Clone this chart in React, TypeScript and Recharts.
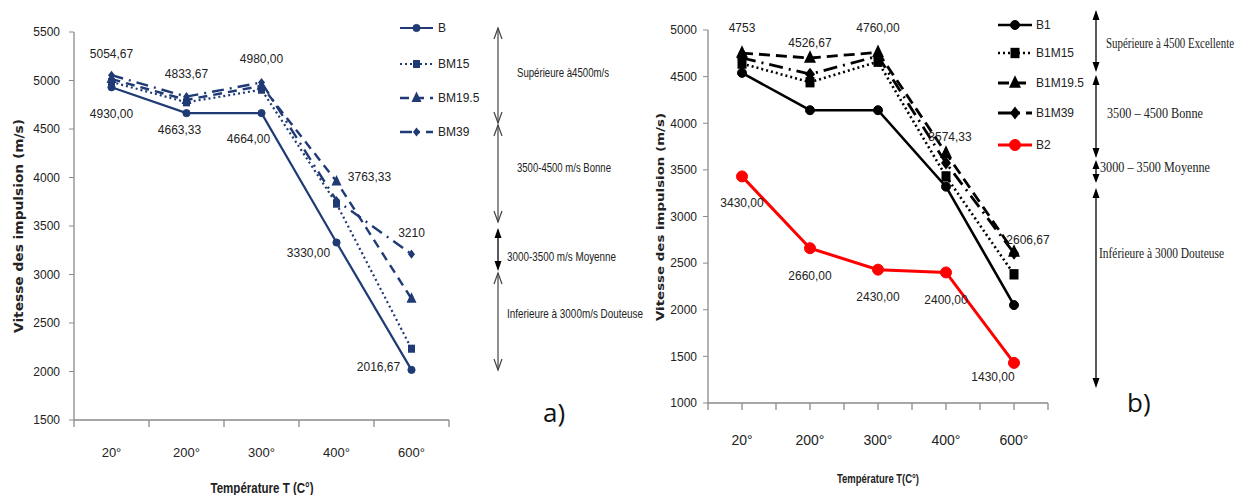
import React from 'react';
import { LineChart, Line, XAxis, YAxis, LabelList } from 'recharts';

// ---------- DATA ----------
const categories = ['20°', '200°', '300°', '400°', '600°'];

// chart a)
const B = [4930, 4663.33, 4664, 3330, 2016.67];
const BM15 = [4985, 4775, 4905, 3730, 2235];
const BM19_5 = [5015, 4800, 4945, 3960, 2750];
const BM39 = [5054.67, 4833.67, 4980, 3763.33, 3210];
const bLabels = ['4930,00', '4663,33', '4664,00', '3330,00', '2016,67'];
const bm39Labels = ['5054,67', '4833,67', '4980,00', '3763,33', '3210'];
const leftYTicks = [1500, 2000, 2500, 3000, 3500, 4000, 4500, 5000, 5500];

// chart b)
const B1 = [4540, 4140, 4140, 3320, 2050];
const B1M15 = [4640, 4440, 4660, 3430, 2380];
const B1M19_5 = [4753, 4700, 4760, 3680, 2620];
const B1M39 = [4700, 4526.67, 4720, 3574.33, 2606.67];
const B2 = [3430, 2660, 2430, 2400, 1430];
const b1m19Labels = ['4753', null, '4760,00', null, null];
const b1m39Labels = [null, '4526,67', null, '3574,33', '2606,67'];
const b2Labels = ['3430,00', '2660,00', '2430,00', '2400,00', '1430,00'];
const rightYTicks = [1000, 1500, 2000, 2500, 3000, 3500, 4000, 4500, 5000];

const xTicks = [0, 0.5, 1, 1.5, 2, 2.5, 3, 3.5, 4, 4.5, 5];

const leftData = categories.map((c, i) => ({
  cat: c, x: i + 0.5,
  B: B[i], BM15: BM15[i], BM19_5: BM19_5[i], BM39: BM39[i],
  bLbl: bLabels[i], bm39Lbl: bm39Labels[i],
}));
const rightData = categories.map((c, i) => ({
  cat: c, x: i + 0.5,
  B1: B1[i], B1M15: B1M15[i], B1M19_5: B1M19_5[i], B1M39: B1M39[i], B2: B2[i],
  m19Lbl: b1m19Labels[i], m39Lbl: b1m39Labels[i], b2Lbl: b2Labels[i],
}));

// ---------- STYLE ----------
const NAVY = '#1f3a74';
const BLACK = '#000';
const RED = '#ff0000';
const SANS = '"Liberation Sans", Arial, sans-serif';
const SERIF = '"Liberation Serif", "Times New Roman", serif';

type Shape = 'circle' | 'square' | 'triangle' | 'diamond';

const leftSeries = [
  { key: 'B', name: 'B', dash: undefined, shape: 'circle' as Shape, size: 3.6, width: 2.2, color: NAVY },
  { key: 'BM15', name: 'BM15', dash: '2 3', shape: 'square' as Shape, size: 3.5, width: 2.2, color: NAVY },
  { key: 'BM19_5', name: 'BM19.5', dash: '9 6', shape: 'triangle' as Shape, size: 5, width: 2.4, color: NAVY },
  { key: 'BM39', name: 'BM39', dash: '12 6 2 6', shape: 'diamond' as Shape, size: 3.5, width: 2.4, color: NAVY },
];
const rightSeries = [
  { key: 'B1', name: 'B1', dash: undefined, shape: 'circle' as Shape, size: 4.5, width: 2.6, color: BLACK },
  { key: 'B1M15', name: 'B1M15', dash: '2 3', shape: 'square' as Shape, size: 4.5, width: 2.6, color: BLACK },
  { key: 'B1M19_5', name: 'B1M19.5', dash: '11 6', shape: 'triangle' as Shape, size: 6, width: 2.8, color: BLACK },
  { key: 'B1M39', name: 'B1M39', dash: '14 6 2 6', shape: 'diamond' as Shape, size: 5, width: 2.8, color: BLACK },
  { key: 'B2', name: 'B2', dash: undefined, shape: 'circle' as Shape, size: 5.5, width: 3, color: RED },
];

function renderShape(shape: Shape, cx: number, cy: number, s: number, color: string, key?: any) {
  switch (shape) {
    case 'circle':
      return <circle key={key} cx={cx} cy={cy} r={s} fill={color} stroke={color} />;
    case 'square':
      return <rect key={key} x={cx - s} y={cy - s * 1.15} width={s * 2} height={s * 2.3} fill={color} />;
    case 'triangle':
      return <polygon key={key} points={`${cx},${cy - s * 1.3} ${cx - s},${cy + s * 0.8} ${cx + s},${cy + s * 0.8}`} fill={color} />;
    case 'diamond':
      return <polygon key={key} points={`${cx},${cy - s * 1.3} ${cx - s},${cy} ${cx},${cy + s * 1.3} ${cx + s},${cy}`} fill={color} />;
  }
}

const makeDot = (shape: Shape, s: number, color: string) => (props: any) => {
  const { cx, cy, index } = props;
  if (cx == null || cy == null) return <g key={`d${index}`} />;
  return renderShape(shape, cx, cy, s, color, `d${index}`);
};

// label offsets (layout only)
const leftBOff = [[0, 27], [-7, 17], [-13, 26], [-28, 11], [-33, -3]];
const leftTopOff = [[0, -21], [0, -23], [0, -23], [33, -23], [0, -21]];
const rightM19Off = [[0, -25], [0, 0], [0, -24], [0, 0], [0, 0]];
const rightM39Off = [[0, 0], [0, -31], [0, 0], [4, -26], [14, -13]];
const rightB2Off = [[0, 27], [0, 28], [0, 27], [0, 28], [-21, 14]];

const makeLabel = (offs: number[][], fontSize: number) => (props: any) => {
  const { x, y, value, index } = props;
  if (value == null || x == null) return null;
  const o = offs[index] || [0, 0];
  return (
    <text key={`l${index}`} x={x + o[0]} y={y + o[1]} textAnchor="middle" dominantBaseline="central"
      fontFamily={SANS} fontSize={fontSize} fill="#222">{value}</text>
  );
};

const makeXTick = (allTicks: boolean, labelDy: number, fontSize: number) => (props: any) => {
  const { x, y, payload } = props;
  const v = payload.value as number;
  const isInt = Math.abs(v - Math.round(v)) < 1e-6;
  const label = isInt ? null : categories[Math.floor(v)];
  return (
    <g>
      {(isInt || allTicks) && <line x1={x} x2={x} y1={y} y2={y + 7} stroke="#8a8a8a" strokeWidth={1.3} />}
      {label && (
        <text x={x} y={y + labelDy} textAnchor="middle" dominantBaseline="central" fontFamily={SANS}
          fontSize={fontSize} fill="#222">{label}</text>
      )}
    </g>
  );
};

const Legend = ({ series, x0, x1, textX, rows, fontSize }: any) => (
  <g>
    {series.map((s: any, i: number) => {
      const y = rows[i];
      const mid = (x0 + x1) / 2;
      return (
        <g key={s.key}>
          <line x1={x0} x2={x1} y1={y} y2={y} stroke={s.color} strokeWidth={s.width} strokeDasharray={s.dash} />
          {renderShape(s.shape, mid, y, s.size, s.color)}
          <text x={textX} y={y} dominantBaseline="central" fontFamily={SANS} fontSize={fontSize} fill="#222">{s.name}</text>
        </g>
      );
    })}
  </g>
);

const OpenArrow = ({ x, y1, y2, color = '#444' }: any) => (
  <g stroke={color} strokeWidth={1.2} fill="none">
    <line x1={x} x2={x} y1={y1} y2={y2} />
    <polyline points={`${x - 4},${y1 + 11} ${x},${y1} ${x + 4},${y1 + 11}`} />
    <polyline points={`${x - 4},${y2 - 11} ${x},${y2} ${x + 4},${y2 - 11}`} />
  </g>
);

const FilledArrow = ({ x, y1, y2, head = 9, hw = 3.5 }: any) => (
  <g>
    <line x1={x} x2={x} y1={y1 + 2} y2={y2 - 2} stroke="#000" strokeWidth={1.3} />
    <polygon points={`${x},${y1} ${x - hw},${y1 + head} ${x + hw},${y1 + head}`} fill="#000" />
    <polygon points={`${x},${y2} ${x - hw},${y2 - head} ${x + hw},${y2 - head}`} fill="#000" />
  </g>
);

const Note = ({ x, y, w, family, size, children }: any) => (
  <text x={x} y={y} dominantBaseline="central" fontFamily={family} fontSize={size} fill="#222"
    textLength={w} lengthAdjust="spacingAndGlyphs">{children}</text>
);

export default function App() {
  return (
    <div style={{ position: 'fixed', left: 0, top: 0, width: 1240, height: 495, background: '#fff', overflow: 'hidden' }}>
      {/* Chart a) */}
      <div style={{ position: 'absolute', left: 0, top: 0 }}>
        <LineChart width={460} height={495} data={leftData} margin={{ top: 32, right: 11, bottom: 0, left: 0 }}>
          <XAxis dataKey="x" type="number" domain={[0, 5]} ticks={xTicks} interval={0} height={75}
            tickSize={0} tickMargin={0} tickLine={false} axisLine={{ stroke: '#8a8a8a', strokeWidth: 1.3 }}
            tick={makeXTick(false, 32, 13)} />
          <YAxis type="number" domain={[1500, 5500]} ticks={leftYTicks} interval={0} width={74}
            tickSize={5} tickMargin={9} axisLine={{ stroke: '#8a8a8a', strokeWidth: 1.3 }}
            tickLine={{ stroke: '#8a8a8a' }}
            tick={{ fontFamily: SANS, fontSize: 12, fill: '#222' }} />
          {leftSeries.map((s) => (
            <Line key={s.key} dataKey={s.key} name={s.name} type="linear" stroke={s.color} strokeWidth={s.width}
              strokeDasharray={s.dash} dot={makeDot(s.shape, s.size, s.color)} activeDot={false}
              isAnimationActive={false}>
              {s.key === 'B' && <LabelList dataKey="bLbl" content={makeLabel(leftBOff, 12)} />}
              {s.key === 'BM39' && <LabelList dataKey="bm39Lbl" content={makeLabel(leftTopOff, 12)} />}
            </Line>
          ))}
        </LineChart>
      </div>

      {/* Chart b) */}
      <div style={{ position: 'absolute', left: 640, top: 0 }}>
        <LineChart width={420} height={495} data={rightData} margin={{ top: 30, right: 12, bottom: 0, left: 0 }}>
          <XAxis dataKey="x" type="number" domain={[0, 5]} ticks={xTicks} interval={0} height={92}
            tickSize={0} tickMargin={0} tickLine={false} axisLine={{ stroke: '#8a8a8a', strokeWidth: 1.3 }}
            tick={makeXTick(true, 37, 14)} />
          <YAxis type="number" domain={[1000, 5000]} ticks={rightYTicks} interval={0} width={68}
            tickSize={5} tickMargin={6} axisLine={{ stroke: '#8a8a8a', strokeWidth: 1.3 }}
            tickLine={{ stroke: '#8a8a8a' }}
            tick={{ fontFamily: SANS, fontSize: 12, fill: '#222' }} />
          {rightSeries.map((s) => (
            <Line key={s.key} dataKey={s.key} name={s.name} type="linear" stroke={s.color} strokeWidth={s.width}
              strokeDasharray={s.dash} dot={makeDot(s.shape, s.size, s.color)} activeDot={false}
              isAnimationActive={false}>
              {s.key === 'B1M19_5' && <LabelList dataKey="m19Lbl" content={makeLabel(rightM19Off, 12)} />}
              {s.key === 'B1M39' && <LabelList dataKey="m39Lbl" content={makeLabel(rightM39Off, 12)} />}
              {s.key === 'B2' && <LabelList dataKey="b2Lbl" content={makeLabel(rightB2Off, 12)} />}
            </Line>
          ))}
        </LineChart>
      </div>

      {/* Overlay: legends, titles, annotations */}
      <svg width={1240} height={495} style={{ position: 'absolute', left: 0, top: 0, pointerEvents: 'none' }}>
        <Legend series={leftSeries} x0={400} x1={433} textX={438} rows={[28, 64, 98, 132]} fontSize={12} />
        <Legend series={rightSeries} x0={998} x1={1032} textX={1036} rows={[25, 53, 83, 113, 145]} fontSize={12} />

        {/* axis titles */}
        <text transform="translate(19,226) rotate(-90)" textAnchor="middle" dominantBaseline="central"
          fontFamily='"DejaVu Sans", Verdana, sans-serif' fontWeight="bold" fontSize={11.5} fill="#222"
          textLength={214} lengthAdjust="spacingAndGlyphs">
          Vitesse des impulsion  (m/s)
        </text>
        <text x={262} y={488} textAnchor="middle" dominantBaseline="central" fontFamily={SANS}
          fontWeight="bold" fontSize={14} fill="#222" textLength={103} lengthAdjust="spacingAndGlyphs">Température T (C°)</text>
        <text transform="translate(660,217) rotate(-90)" textAnchor="middle" dominantBaseline="central"
          fontFamily='"DejaVu Sans", Verdana, sans-serif' fontWeight="bold" fontSize={11} fill="#222"
          textLength={208} lengthAdjust="spacingAndGlyphs">
          Vitesse des impulsion  (m/s)
        </text>
        <text x={878} y={478} textAnchor="middle" dominantBaseline="central" fontFamily={SANS}
          fontWeight="bold" fontSize={13} fill="#222" textLength={82} lengthAdjust="spacingAndGlyphs">Température T(C°)</text>

        {/* annotations a) */}
        <OpenArrow x={498} y1={28} y2={123} />
        <OpenArrow x={498} y1={125} y2={222} />
        <FilledArrow x={498} y1={228} y2={271} head={10} hw={3.5} />
        <OpenArrow x={498} y1={273} y2={370} />
        <Note x={517} y={72} w={92} family={SANS} size={13}>Supérieure  à4500m/s</Note>
        <Note x={517} y={167} w={94} family={SANS} size={13}>3500-4500 m/s Bonne</Note>
        <Note x={507} y={256} w={109} family={SANS} size={13}>3000-3500 m/s Moyenne</Note>
        <Note x={507} y={313} w={136} family={SANS} size={13}>Inferieure à 3000m/s  Douteuse</Note>
        <text x={543} y={412} dominantBaseline="central" fontFamily='"Open Sans", "DejaVu Sans", sans-serif'
          fontSize={26} fill="#111">a)</text>

        {/* annotations b) */}
        <FilledArrow x={1096} y1={10} y2={72} head={10} hw={3.5} />
        <FilledArrow x={1096} y1={75} y2={158} head={10} hw={3.5} />
        <FilledArrow x={1096} y1={160} y2={183} head={9} hw={3.5} />
        <FilledArrow x={1096} y1={188} y2={388} head={10} hw={3.5} />
        <Note x={1106} y={43} w={128} family={SERIF} size={14}>Supérieure à 4500  Excellente</Note>
        <Note x={1107} y={113} w={96} family={SERIF} size={14}>3500 – 4500   Bonne</Note>
        <Note x={1100} y={167} w={110} family={SERIF} size={14}>3000 – 3500   Moyenne</Note>
        <Note x={1099} y={253} w={125} family={SERIF} size={14}>Inférieure à 3000  Douteuse</Note>
        <text x={1127} y={402} dominantBaseline="central" fontFamily='"Open Sans", "DejaVu Sans", sans-serif'
          fontSize={26} fill="#111">b)</text>
      </svg>
    </div>
  );
}
